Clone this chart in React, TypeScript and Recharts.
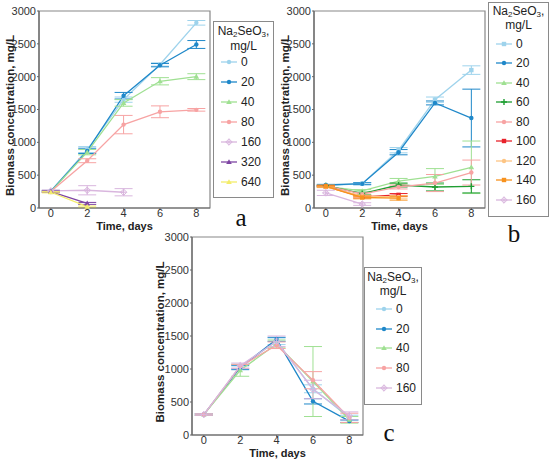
import { LineChart, Line, XAxis, YAxis, ErrorBar, ReferenceArea } from "recharts";

const days = [0, 2, 4, 6, 8];
const yTicks = [0, 500, 1000, 1500, 2000, 2500, 3000];

// panel a
const aDoses = ["0", "20", "40", "80", "160", "320", "640"];
const aMeans: (number | null)[][] = [
  [255, 890, 1650, 2185, 2820],
  [255, 870, 1710, 2175, 2490],
  [250, 850, 1600, 1930, 2000],
  [250, 720, 1270, 1465, 1495],
  [260, 270, 240, null, null],
  [250, 70, null, null, null],
  [240, 20, null, null, null],
];
const aErrors: (number | null)[][] = [
  [15, 45, 40, 25, 35],
  [10, 40, 50, 25, 60],
  [10, 40, 50, 55, 45],
  [10, 30, 140, 90, 20],
  [15, 70, 55, null, null],
  [10, 15, null, null, null],
  [10, 10, null, null, null],
];

// panel b
const bDoses = ["0", "20", "40", "60", "80", "100", "120", "140", "160"];
const bMeans: (number | null)[][] = [
  [340, 370, 880, 1650, 2100],
  [350, 370, 850, 1600, 1370],
  [330, 260, 410, 480, 620],
  [340, 220, 350, 320, 330],
  [340, 210, 320, 380, 540],
  [330, 170, 200, null, null],
  [320, 180, 170, null, null],
  [330, 160, 150, null, null],
  [230, 60, null, null, null],
];
const bErrors: (number | null)[][] = [
  [10, 15, 40, 40, 65],
  [10, 15, 40, 30, 440],
  [10, 20, 40, 120, 400],
  [10, 20, 30, 60, 100],
  [10, 20, 30, 130, 190],
  [10, 15, 20, null, null],
  [10, 15, 20, null, null],
  [10, 20, 30, null, null],
  [40, 20, null, null, null],
];

// panel c
const cDoses = ["0", "20", "40", "80", "160"];
const cMeans: (number | null)[][] = [
  [310, 1040, 1420, 700, 260],
  [310, 1020, 1450, 510, 210],
  [310, 980, 1380, 810, 230],
  [310, 1040, 1360, 830, 260],
  [310, 1050, 1420, 690, 290],
];
const cErrors: (number | null)[][] = [
  [15, 30, 50, 60, 40],
  [10, 30, 30, 40, 20],
  [10, 90, 60, 530, 50],
  [10, 30, 50, 130, 70],
  [10, 40, 80, 140, 60],
];

const C = {
  sky: "#9ed3ec",
  blue: "#1f88c9",
  lgreen: "#9fe092",
  green: "#1f9e32",
  salmon: "#f7a3a3",
  red: "#e8222a",
  lorange: "#fdc584",
  orange: "#f7921e",
  lilac: "#d9b6de",
  purple: "#7e45a3",
  yellow: "#f3ec6a",
};

const FONT = "'Liberation Sans', Arial, sans-serif";

type Shape = "circle" | "square" | "triangle" | "plus" | "diamond";

function Marker({ shape, cx, cy, color }: { shape: Shape; cx: number; cy: number; color: string }) {
  const s = 2.2;
  if (shape === "square") return <rect x={cx - s} y={cy - s} width={2 * s} height={2 * s} fill={color} />;
  if (shape === "triangle")
    return <polygon points={`${cx},${cy - 2.8} ${cx - 2.8},${cy + 2} ${cx + 2.8},${cy + 2}`} fill={color} />;
  if (shape === "plus")
    return <path d={`M${cx - 3},${cy}H${cx + 3}M${cx},${cy - 3}V${cy + 3}`} stroke={color} strokeWidth={1.4} />;
  if (shape === "diamond")
    return (
      <g>
        <polygon points={`${cx},${cy - 3.2} ${cx + 3.2},${cy} ${cx},${cy + 3.2} ${cx - 3.2},${cy}`} fill="none" stroke={color} strokeWidth={1} />
        <path d={`M${cx - 3.2},${cy}H${cx + 3.2}M${cx},${cy - 3.2}V${cy + 3.2}`} stroke={color} strokeWidth={1} />
      </g>
    );
  return <circle cx={cx} cy={cy} r={s} fill={color} />;
}

type PanelProps = {
  left: number;
  top: number;
  height: number;
  yWidth: number;
  xHeight: number;
  doses: string[];
  means: (number | null)[][];
  errors: (number | null)[][];
  colors: string[];
  shapes: Shape[];
};

function Panel({ left, top, height, yWidth, xHeight, doses, means, errors, colors, shapes }: PanelProps) {
  const data = days.map((d, i) => {
    const row: Record<string, number | null> = { day: d };
    doses.forEach((_, k) => {
      row["m" + k] = means[k][i] ?? null;
      row["e" + k] = errors[k][i] ?? null;
    });
    return row;
  });
  const width = yWidth + 173;
  return (
    <div style={{ position: "absolute", left, top }}>
      <LineChart width={width} height={height} data={data} margin={{ top: 11, right: 2, bottom: 0, left: 0 }}>
        <XAxis
          dataKey="day"
          type="number"
          domain={[-0.65, 8.75]}
          ticks={days}
          allowDataOverflow
          height={xHeight}
          tickSize={2}
          tickMargin={0}
          tick={{ fontSize: 11, fill: "#333", fontFamily: FONT, dy: -1 }}
          axisLine={{ stroke: "#666", strokeWidth: 1.2 }}
          tickLine={{ stroke: "#666" }}
          label={(p: any) => {
            const vb = p.viewBox;
            return (
              <text x={vb.x + vb.width / 2} y={vb.y + 22} textAnchor="middle" fontSize={11} fontWeight="bold" fill="#222" fontFamily={FONT}>
                Time, days
              </text>
            );
          }}
        />
        <YAxis
          type="number"
          domain={[0, 3000]}
          ticks={yTicks}
          width={yWidth}
          tickSize={2}
          tickMargin={1}
          tick={{ fontSize: 11, fill: "#333", fontFamily: FONT }}
          axisLine={{ stroke: "#666", strokeWidth: 1.2 }}
          tickLine={{ stroke: "#666" }}
          label={(p: any) => {
            const vb = p.viewBox;
            const x = vb.x + 10;
            const y = vb.y + vb.height / 2 + 6;
            return (
              <text x={x} y={y} transform={`rotate(-90 ${x} ${y})`} dy={4} textAnchor="middle" fontSize={11.5} fontWeight="bold" fill="#222" fontFamily={FONT}>
                Biomass concentration, mg/L
              </text>
            );
          }}
        />
        <ReferenceArea x1={-0.65} x2={8.75} y1={0} y2={3000} fill="none" stroke="#888" strokeWidth={1.2} ifOverflow="visible" />
        {doses.map((dose, k) => (
          <Line
            key={dose}
            type="linear"
            dataKey={"m" + k}
            stroke={colors[k]}
            strokeWidth={1.3}
            isAnimationActive={false}
            activeDot={false}
            dot={(p: any) =>
              p.cx == null || p.cy == null || p.value == null ? (
                <g key={`${k}-${p.index}`} />
              ) : (
                <Marker key={`${k}-${p.index}`} shape={shapes[k]} cx={p.cx} cy={p.cy} color={colors[k]} />
              )
            }
          >
            <ErrorBar dataKey={"e" + k} direction="y" width={9} stroke={colors[k]} strokeWidth={1} />
          </Line>
        ))}
      </LineChart>
    </div>
  );
}

type LegendProps = {
  left: number;
  top: number;
  width: number;
  height: number;
  padTop: number;
  padLeft: number;
  titleLine: number;
  gap: number;
  rowH: number;
  doses: string[];
  colors: string[];
  shapes: Shape[];
};

const sub = { fontSize: 8, position: "relative" as const, top: 2 };

function DoseLegend({ left, top, width, height, padTop, padLeft, titleLine, gap, rowH, doses, colors, shapes }: LegendProps) {
  return (
    <div
      style={{
        position: "absolute",
        left,
        top,
        width,
        height,
        boxSizing: "border-box",
        border: "1.5px solid #8a8a8a",
        background: "#fff",
        fontFamily: FONT,
        fontSize: 12,
        color: "#222",
        paddingTop: padTop,
      }}
    >
      <div style={{ textAlign: "center", lineHeight: `${titleLine}px`, height: titleLine, whiteSpace: "nowrap" }}>
        Na<span style={sub}>2</span>SeO<span style={sub}>3</span>,
      </div>
      <div style={{ textAlign: "center", lineHeight: `${titleLine}px`, height: titleLine, marginTop: 1 }}>mg/L</div>
      <div style={{ marginTop: gap, paddingLeft: padLeft }}>
        {doses.map((dose, k) => (
          <div key={dose} style={{ height: rowH, display: "flex", alignItems: "center" }}>
            <svg width={16} height={10} style={{ marginRight: 4 }}>
              <line x1={0} y1={5} x2={16} y2={5} stroke={colors[k]} strokeWidth={1.3} />
              <Marker shape={shapes[k]} cx={8} cy={5} color={colors[k]} />
            </svg>
            <span>{dose}</span>
          </div>
        ))}
      </div>
    </div>
  );
}

const aColors = [C.sky, C.blue, C.lgreen, C.salmon, C.lilac, C.purple, C.yellow];
const aShapes: Shape[] = ["circle", "circle", "triangle", "circle", "diamond", "triangle", "triangle"];
const bColors = [C.sky, C.blue, C.lgreen, C.green, C.salmon, C.red, C.lorange, C.orange, C.lilac];
const bShapes: Shape[] = ["square", "circle", "triangle", "plus", "circle", "square", "circle", "square", "diamond"];
const cColors = [C.sky, C.blue, C.lgreen, C.salmon, C.lilac];
const cShapes: Shape[] = ["circle", "circle", "triangle", "circle", "diamond"];

const letter = (text: string, x: number, y: number) => (
  <div
    style={{
      position: "absolute",
      left: x - 20,
      top: y - 16,
      width: 40,
      textAlign: "center",
      fontFamily: "'Liberation Serif', 'Times New Roman', serif",
      fontSize: 25,
      lineHeight: "28px",
      color: "#111",
    }}
  >
    {text}
  </div>
);

export default function App() {
  return (
    <div style={{ position: "absolute", left: 0, top: 0, width: 550, height: 461, background: "#fff", overflow: "hidden" }}>
      <Panel left={0} top={0} height={232} yWidth={39} xHeight={24} doses={aDoses} means={aMeans} errors={aErrors} colors={aColors} shapes={aShapes} />
      <Panel left={275} top={0} height={232} yWidth={39} xHeight={24} doses={bDoses} means={bMeans} errors={bErrors} colors={bColors} shapes={bShapes} />
      <Panel left={150} top={226} height={235} yWidth={42} xHeight={26} doses={cDoses} means={cMeans} errors={cErrors} colors={cColors} shapes={cShapes} />
      <DoseLegend left={213} top={21} width={61} height={177} padTop={2} padLeft={7} titleLine={14} gap={-1} rowH={20} doses={aDoses} colors={aColors} shapes={aShapes} />
      <DoseLegend left={488} top={2} width={61} height={215} padTop={2} padLeft={7} titleLine={13} gap={2} rowH={19.5} doses={bDoses} colors={bColors} shapes={bShapes} />
      <DoseLegend left={364} top={267} width={58} height={138} padTop={3} padLeft={11} titleLine={13} gap={1} rowH={19.8} doses={cDoses} colors={cColors} shapes={cShapes} />
      {letter("a", 241, 220)}
      {letter("b", 514, 236)}
      {letter("c", 389, 435)}
    </div>
  );
}
